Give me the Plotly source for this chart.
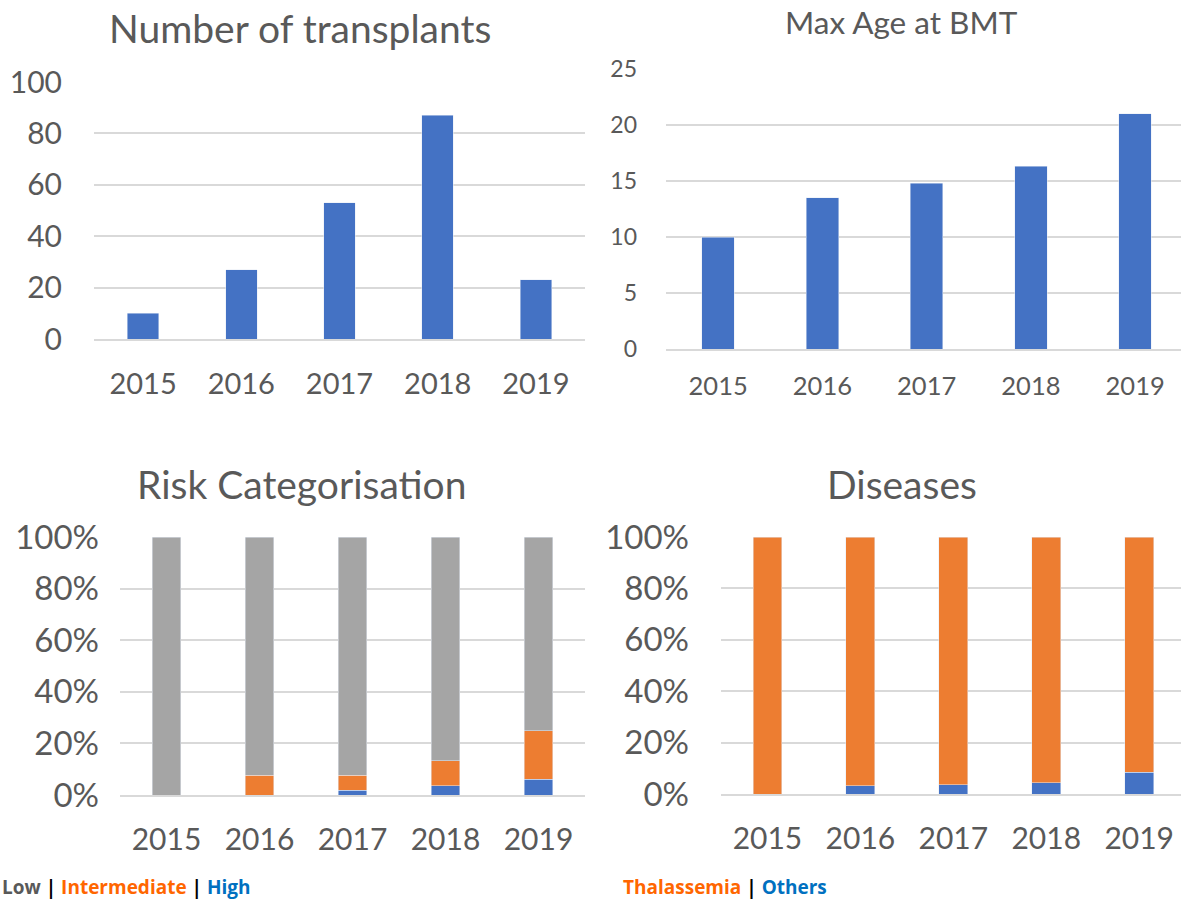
import plotly.graph_objects as go

years = ["2015", "2016", "2017", "2018", "2019"]
transplants = [10, 27, 53, 87, 23]
max_age = [10, 13.5, 14.8, 16.3, 21]
risk_low = [100, 92.3, 92.3, 86.7, 75.1]
risk_intermediate = [0, 7.7, 5.8, 9.7, 18.7]
risk_high = [0, 0, 1.9, 3.6, 6.2]
dis_thal = [100, 96.8, 96.4, 95.7, 91.6]
dis_others = [0, 3.2, 3.6, 4.3, 8.4]

BLUE = "#4472C4"
ORANGE = "#ED7D31"
GRAY = "#A5A5A5"
TXT = "#595959"
GRID = "#D9D9D9"
FONT = "Lato"

W, H = 1181, 901

def px_x(a, b):
    return [a / W, min(b / W, 1.0)]

def px_y(top, bottom):
    return [1 - bottom / H, 1 - top / H]

fig = go.Figure()

fig.add_trace(go.Bar(x=years, y=transplants, marker_color=BLUE, xaxis="x", yaxis="y",
                     showlegend=False, width=0.32))
fig.add_trace(go.Bar(x=years, y=max_age, marker_color=BLUE, xaxis="x2", yaxis="y2",
                     showlegend=False, width=0.31))
for vals, col in [(risk_high, BLUE), (risk_intermediate, ORANGE), (risk_low, GRAY)]:
    fig.add_trace(go.Bar(x=years, y=vals, marker_color=col, xaxis="x3", yaxis="y3",
                         showlegend=False, width=0.31))
for vals, col in [(dis_others, BLUE), (dis_thal, ORANGE)]:
    fig.add_trace(go.Bar(x=years, y=vals, marker_color=col, xaxis="x4", yaxis="y4",
                         showlegend=False, width=0.31))

def xaxis(domain, rng, size, standoff, anchor):
    return dict(domain=domain, range=rng, type="category", showline=True, linecolor=GRID,
                linewidth=2, showgrid=False, ticks="", automargin=False, anchor=anchor,
                tickfont=dict(family=FONT, size=size, color=TXT), ticklabelstandoff=standoff,
                fixedrange=True)

def yaxis(domain, rng, dtick, size, standoff, anchor, suffix=""):
    return dict(domain=domain, range=rng, dtick=dtick, showgrid=True, gridcolor=GRID,
                gridwidth=1.5, zeroline=False, showline=False, ticks="", automargin=False,
                anchor=anchor,
                tickfont=dict(family=FONT, size=size, color=TXT), ticklabelstandoff=standoff,
                ticksuffix=suffix, fixedrange=True)

fig.update_layout(
    width=W, height=H, margin=dict(l=0, r=0, t=0, b=0),
    paper_bgcolor="white", plot_bgcolor="white", barmode="stack",
    font=dict(family=FONT, color=TXT),
    xaxis=xaxis(px_x(94, 585), [-0.5, 4.5], 29, 18, "y"),
    yaxis=yaxis(px_y(82, 339), [0, 100], 20, 30, 31, "x"),
    xaxis2=xaxis(px_x(666, 1181), [-0.5, 4.44], 25.5, 13, "y2"),
    yaxis2=yaxis(px_y(69, 349), [0, 25], 5, 23, 28, "x2"),
    xaxis3=xaxis(px_x(120, 585), [-0.5, 4.5], 30, 17, "y3"),
    yaxis3=yaxis(px_y(537, 795), [0, 100], 20, 33, 20, "x3", "%"),
    xaxis4=xaxis(px_x(721, 1181), [-0.5, 4.45], 30, 17, "y4"),
    yaxis4=yaxis(px_y(537, 794), [0, 100], 20, 33, 31, "x4", "%"),
)

def title(text, xc, yc, size):
    fig.add_annotation(text=text, x=xc / W, y=1 - yc / H, xref="paper", yref="paper",
                       showarrow=False, xanchor="center", yanchor="middle",
                       font=dict(family=FONT, size=size, color=TXT))

title("Number of transplants", 300, 28, 39)
title("Max Age at BMT", 901, 22, 31.5)
title("Risk Categorisation", 301, 484, 39)
title("Diseases", 902, 484, 39)

LEG = "Open Sans"
fig.add_annotation(
    text=("<b><span style='color:#595959'>Low</span> <span style='color:#000000'>|</span> "
          "<span style='color:#FF6600'>Intermediate</span> <span style='color:#000000'>|</span> "
          "<span style='color:#0070C0'>High</span></b>"),
    x=1 / W, y=1 - 887 / H, xref="paper", yref="paper", showarrow=False,
    xanchor="left", yanchor="middle", borderpad=0, font=dict(family=LEG, size=19))
fig.add_annotation(
    text=("<b><span style='color:#FF6600'>Thalassemia</span> <span style='color:#000000'>|</span> "
          "<span style='color:#0070C0'>Others</span></b>"),
    x=622 / W, y=1 - 887 / H, xref="paper", yref="paper", showarrow=False,
    xanchor="left", yanchor="middle", borderpad=0, font=dict(family=LEG, size=19))

fig.write_html("out.html", config={"displayModeBar": False},
               post_script="document.body.style.margin='0';document.body.style.overflow='hidden';")
